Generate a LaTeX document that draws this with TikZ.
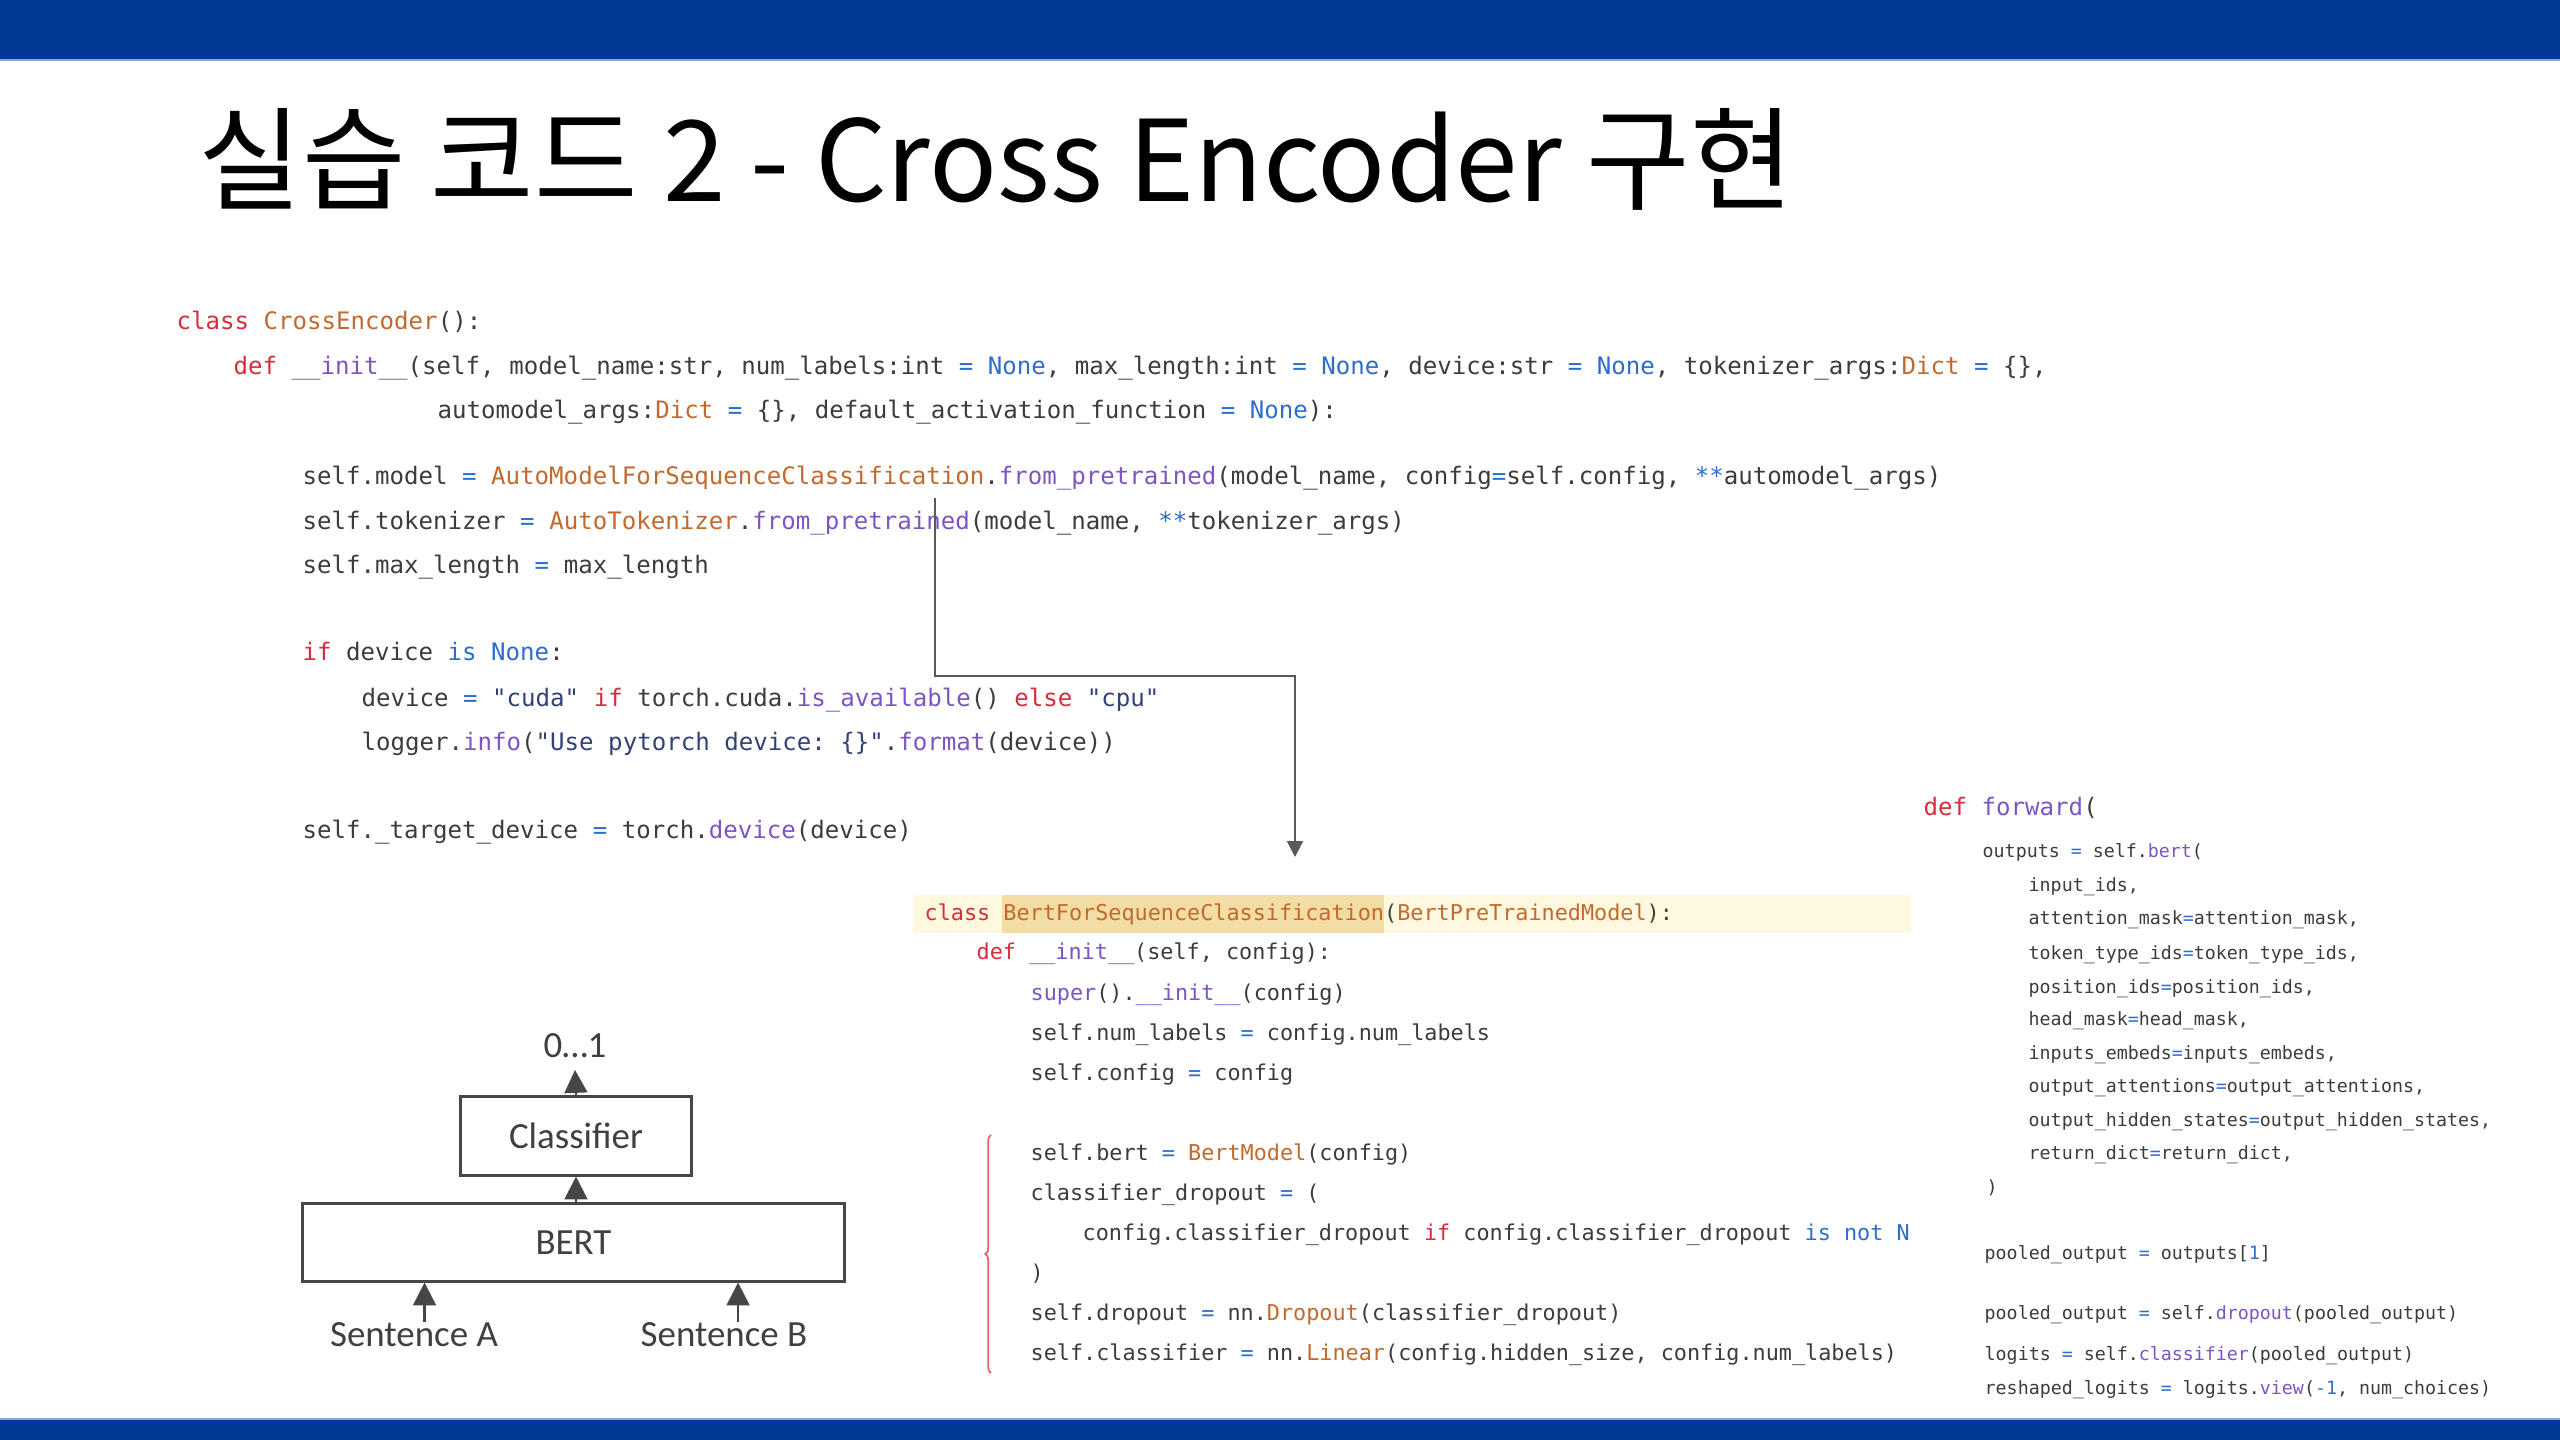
\documentclass[tikz,border=0pt]{standalone}
\usepackage{fontspec}
\setmonofont{DejaVu Sans Mono}
\newfontfamily\titlefont{Noto Sans CJK KR}
\newfontfamily\diagfont{Carlito}
\usetikzlibrary{arrows.meta,decorations.pathreplacing}

\definecolor{barblue}{RGB}{0,58,150}
\definecolor{codegray}{RGB}{60,60,60}
\definecolor{kwred}{RGB}{215,45,60}
\definecolor{clsbrown}{RGB}{195,105,45}
\definecolor{fnpurple}{RGB}{125,85,195}
\definecolor{opblue}{RGB}{45,110,205}
\definecolor{strblue}{RGB}{50,65,120}
\definecolor{hllight}{RGB}{254,248,222}
\definecolor{hldark}{RGB}{242,222,165}
\definecolor{boxgray}{RGB}{70,70,70}
\definecolor{labelgray}{RGB}{64,64,64}
\definecolor{linkgray}{RGB}{90,90,90}
\definecolor{bracered}{RGB}{240,95,105}

\newcommand{\ckw}[1]{\textcolor{kwred}{#1}}
\newcommand{\ccls}[1]{\textcolor{clsbrown}{#1}}
\newcommand{\cfn}[1]{\textcolor{fnpurple}{#1}}
\newcommand{\cop}[1]{\textcolor{opblue}{#1}}
\newcommand{\cstr}[1]{\textcolor{strblue}{#1}}

\begin{document}
\begin{tikzpicture}[ x=0.01cm, y=-0.01cm, >={Triangle[width=6.5pt,length=6.5pt]},
    code/.style={anchor=base west, inner sep=0pt, text=codegray, font=\ttfamily\fontsize{6.85}{8}\selectfont},
    codesm/.style={code, font=\ttfamily\fontsize{6.2}{7.5}\selectfont},
    codetiny/.style={code, font=\ttfamily\fontsize{5.2}{6.5}\selectfont},
    block/.style={draw=boxgray, line width=0.85pt, text=labelgray, font=\diagfont\fontsize{10.5}{12}\selectfont, inner sep=0pt},
    lbl/.style={text=labelgray, font=\diagfont\fontsize{10.5}{12}\selectfont, inner sep=0pt},
    flow/.style={->, line width=0.6pt, draw=boxgray},
    link/.style={-{Triangle[width=4.5pt,length=4.5pt]}, line width=0.6pt, draw=linkgray} ]
    \useasboundingbox (0,0) rectangle (2560,1440);

    % Bars
    \fill[white] (0,0) rectangle (2560,1440);
    \fill[barblue] (0,0) rectangle (2560,59);
    \draw[barblue!45, line width=0.6pt] (0,60) -- (2560,60);
    \fill[barblue] (0,1420) rectangle (2560,1440);
    \draw[barblue!45, line width=0.6pt] (0,1419) -- (2560,1419);

    % Title
    \node[anchor=base west, inner sep=0pt, font=\titlefont\fontsize{32}{38}\selectfont] (title) at (198,202) {실습 코드 2 - Cross Encoder 구현};

    % --- CrossEncoder ---
    \node[code] (ce1) at (176,330) {\ckw{class} \ccls{CrossEncoder}():};
    \node[code] (ce2) at (233,375) {\ckw{def} \cfn{\_\_init\_\_}(self, model\_name:str, num\_labels:int \cop{=} \cop{None}, max\_length:int \cop{=} \cop{None}, device:str \cop{=} \cop{None}, tokenizer\_args:\ccls{Dict} \cop{=} \{\},};
    \node[code] (ce3) at (437,419) {automodel\_args:\ccls{Dict} \cop{=} \{\}, default\_activation\_function \cop{=} \cop{None}):};
    \node[code] (ce4) at (302,485) {self.model \cop{=} \ccls{AutoModelForSequenceClassification}.\cfn{from\_pretrained}(model\_name, config\cop{=}self.config, \cop{**}automodel\_args)};
    \node[code] (ce5) at (302,530) {self.tokenizer \cop{=} \ccls{AutoTokenizer}.\cfn{from\_pretrained}(model\_name, \cop{**}tokenizer\_args)};
    \node[code] (ce6) at (302,574) {self.max\_length \cop{=} max\_length};
    \node[code] (ce7) at (302,661) {\ckw{if} device \cop{is} \cop{None}:};
    \node[code] (ce8) at (361,707) {device \cop{=} \cstr{"cuda"} \ckw{if} torch.cuda.\cfn{is\_available}() \ckw{else} \cstr{"cpu"}};
    \node[code] (ce9) at (361,751) {logger.\cfn{info}(\cstr{"Use pytorch device: \{\}"}.\cfn{format}(device))};
    \node[code] (ce10) at (302,839) {self.\_target\_device \cop{=} torch.\cfn{device}(device)};

    % --- BertForSequenceClassification ---
    \fill[hllight] (913,895) rectangle (1911,933);
    \fill[hldark] (1002,895) rectangle (1384,933);
    \node[codesm] (bc1) at (924,920) {\ckw{class} \ccls{BertForSequenceClassification}(\ccls{BertPreTrainedModel}):};
    \node[codesm] (bc2) at (976,959) {\ckw{def} \cfn{\_\_init\_\_}(self, config):};
    \node[codesm] (bc3) at (1030,1000) {\cfn{super}().\cfn{\_\_init\_\_}(config)};
    \node[codesm] (bc4) at (1030,1040) {self.num\_labels \cop{=} config.num\_labels};
    \node[codesm] (bc5) at (1030,1080) {self.config \cop{=} config};
    \node[codesm] (bc6) at (1030,1160) {self.bert \cop{=} \ccls{BertModel}(config)};
    \node[codesm] (bc7) at (1030,1200) {classifier\_dropout \cop{=} (};
    \node[codesm] (bc8) at (1082,1240) {config.classifier\_dropout \ckw{if} config.classifier\_dropout \cop{is} \cop{not} \cop{N}};
    \node[codesm] (bc9) at (1030,1280) {)};
    \node[codesm] (bc10) at (1030,1320) {self.dropout \cop{=} nn.\ccls{Dropout}(classifier\_dropout)};
    \node[codesm] (bc11) at (1030,1360) {self.classifier \cop{=} nn.\ccls{Linear}(config.hidden\_size, config.num\_labels)};
    \draw[bracered, line width=0.5pt, decorate, decoration={brace, amplitude=1.6pt}] (991,1373) -- (991,1135);

    % --- forward ---
    \node[code] (fw0) at (1923,816) {\ckw{def} \cfn{forward}(};
    \node[codetiny] (fw1) at (1982,858) {outputs \cop{=} self.\cfn{bert}(};
    \node[codetiny] (fw2) at (2028,892) {input\_ids,};
    \node[codetiny] (fw3) at (2028,925) {attention\_mask\cop{=}attention\_mask,};
    \node[codetiny] (fw4) at (2028,959) {token\_type\_ids\cop{=}token\_type\_ids,};
    \node[codetiny] (fw5) at (2028,993) {position\_ids\cop{=}position\_ids,};
    \node[codetiny] (fw6) at (2028,1025) {head\_mask\cop{=}head\_mask,};
    \node[codetiny] (fw7) at (2028,1059) {inputs\_embeds\cop{=}inputs\_embeds,};
    \node[codetiny] (fw8) at (2028,1092) {output\_attentions\cop{=}output\_attentions,};
    \node[codetiny] (fw9) at (2028,1126) {output\_hidden\_states\cop{=}output\_hidden\_states,};
    \node[codetiny] (fw10) at (2028,1159) {return\_dict\cop{=}return\_dict,};
    \node[codetiny] (fw11) at (1986,1193) {)};
    \node[codetiny] (fw12) at (1984,1259) {pooled\_output \cop{=} outputs[\cop{1}]};
    \node[codetiny] (fw13) at (1984,1319) {pooled\_output \cop{=} self.\cfn{dropout}(pooled\_output)};
    \node[codetiny] (fw14) at (1984,1360) {logits \cop{=} self.\cfn{classifier}(pooled\_output)};
    \node[codetiny] (fw15) at (1984,1394) {reshaped\_logits \cop{=} logits.\cfn{view}(\cop{-1}, num\_choices)};

    % Link
    \coordinate (tokpt) at (935,498);
    \coordinate (bend) at (1295,676);
    \coordinate (clsin) at (1295,857);
    \draw[link] (tokpt) |- (bend) -- (clsin);

    % --- Cross encoder diagram ---
    \node[block, minimum width=2.3cm, minimum height=0.78cm] (clf) at (576,1136) {Classifier};
    \node[block, minimum width=5.41cm, minimum height=0.77cm] (bert) at (573.5,1242.5) {BERT};
    \node[lbl, inner sep=3.4pt, anchor=south] (out) at (575,1070) {0…1};
    \node[lbl] (sentA) at (414,1335) {Sentence A};
    \node[lbl] (sentB) at (724,1335) {Sentence B};
    \draw[flow] (bert.north -| clf.south) -- (clf.south);
    \draw[flow] (clf.north) -- (out.south);
    \draw[flow] ([xshift=3]sentA.north) -- ([xshift=3]sentA.north |- bert.south);
    \draw[flow] ([xshift=4]sentB.north) -- ([xshift=4]sentB.north |- bert.south);
\end{tikzpicture}
\end{document}
